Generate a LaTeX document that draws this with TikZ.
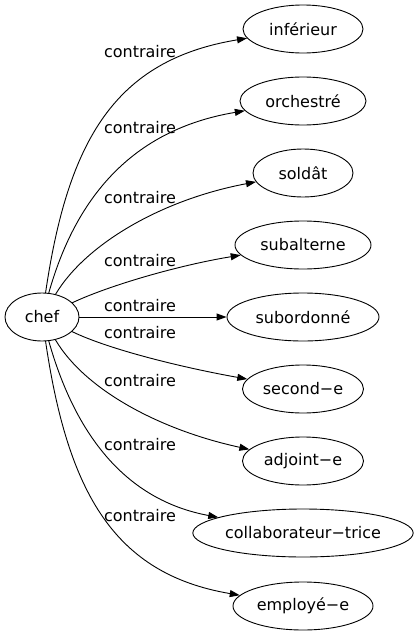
\documentclass[tikz,border=0pt]{standalone}
\usepackage{fontspec}
\setmainfont{DejaVu Sans}
\usetikzlibrary{shapes.geometric,arrows.meta}
\tikzset{
  mot/.style={draw, ellipse, line width=0.9pt, inner sep=0pt, minimum height=48pt, font=\fontsize{16}{19}\selectfont},
  lien/.style={line width=0.9pt, -{Triangle[length=10pt,width=7pt]}},
  rel/.style={inner sep=0pt, font=\fontsize{16}{19}\selectfont},
}
\begin{document}
\begin{tikzpicture}[x=1pt, y=-1pt, line cap=round, line join=round]
  \useasboundingbox (0,0) rectangle (418,635);

  \node[mot, minimum width=74pt] (chef) at (42,317) {chef};

  \node[mot, minimum width=120pt] (inferieur) at (303,29) {inférieur};
  \node[mot, minimum width=126pt] (orchestre) at (303,101) {orchestré};
  \node[mot, minimum width=100pt] (soldat) at (303,173) {soldât};
  \node[mot, minimum width=136pt] (subalterne) at (303,245) {subalterne};
  \node[mot, minimum width=152pt] (subordonne) at (303,317) {subordonné};
  \node[mot, minimum width=121pt] (second) at (303,389) {second−e};
  \node[mot, minimum width=121pt] (adjoint) at (303,461) {adjoint−e};
  \node[mot, minimum width=219pt] (collab) at (303,533) {collaborateur−trice};
  \node[mot, minimum width=140pt] (employe) at (303,606) {employé−e};

  \draw[lien] (chef) .. controls (68,140) and (115,60) .. (inferieur);
  \draw[lien] (chef) .. controls (75,200) and (130,130) .. (orchestre);
  \draw[lien] (chef) .. controls (85,245) and (160,200) .. (soldat);
  \draw[lien] (chef) .. controls (110,285) and (180,265) .. (subalterne);
  \draw[lien] (chef) -- (subordonne);
  \draw[lien] (chef) .. controls (110,350) and (185,368) .. (second);
  \draw[lien] (chef) .. controls (85,390) and (160,430) .. (adjoint);
  \draw[lien] (chef) .. controls (75,434) and (125,500) .. (collab);
  \draw[lien] (chef) .. controls (68,494) and (115,574) .. (employe);

  \node[rel] (l1) at (140,52) {contraire};
  \node[rel] (l2) at (140,128) {contraire};
  \node[rel] (l3) at (140,198) {contraire};
  \node[rel] (l4) at (140,261) {contraire};
  \node[rel] (l5) at (140,306) {contraire};
  \node[rel] (l6) at (140,333) {contraire};
  \node[rel] (l7) at (140,381) {contraire};
  \node[rel] (l8) at (140,445) {contraire};
  \node[rel] (l9) at (140,516) {contraire};
\end{tikzpicture}
\end{document}
